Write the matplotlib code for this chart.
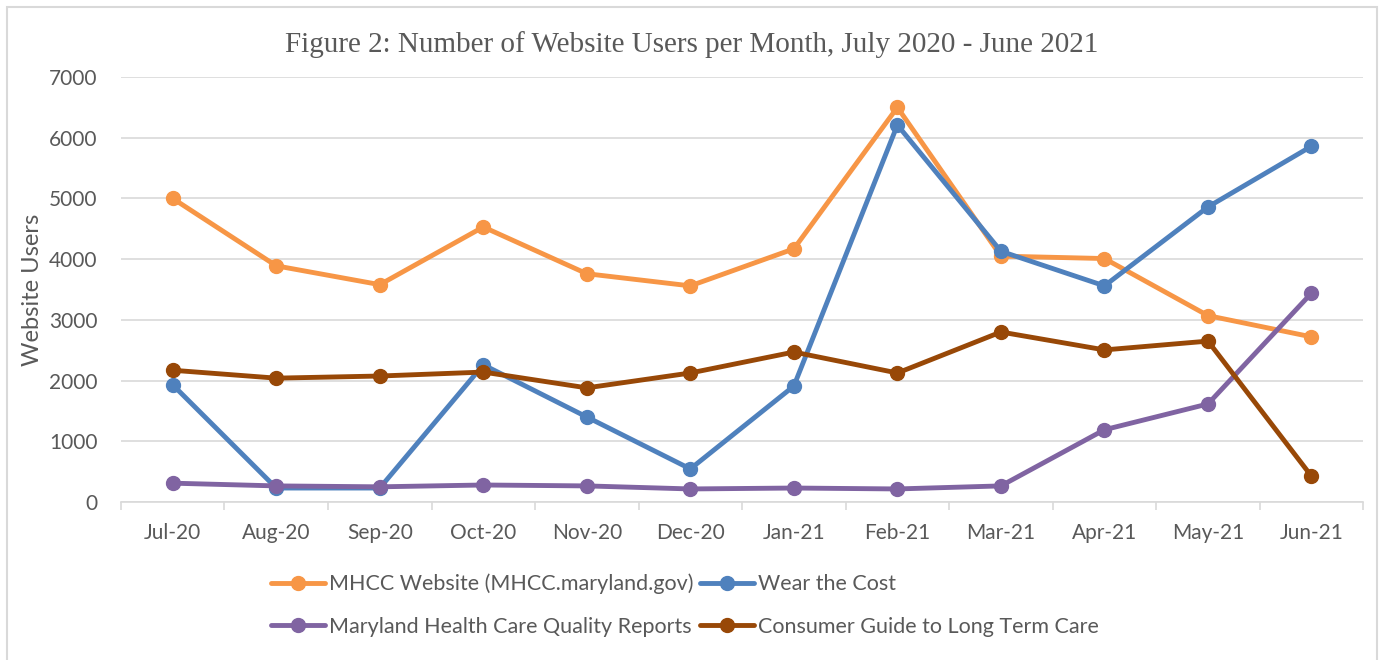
import matplotlib.pyplot as plt
from matplotlib.patches import Rectangle

months = ["Jul-20", "Aug-20", "Sep-20", "Oct-20", "Nov-20", "Dec-20",
          "Jan-21", "Feb-21", "Mar-21", "Apr-21", "May-21", "Jun-21"]
mhcc = [5000, 3890, 3580, 4530, 3760, 3560, 4170, 6500, 4050, 4010, 3070, 2720]
wear_cost = [1930, 230, 230, 2260, 1400, 545, 1910, 6210, 4130, 3560, 4860, 5860]
quality_reports = [310, 265, 250, 280, 265, 215, 230, 215, 265, 1190, 1615, 3440]
consumer_guide = [2170, 2040, 2075, 2140, 1880, 2125, 2470, 2125, 2800, 2505, 2650, 425]

series = [
    ("MHCC Website (MHCC.maryland.gov)", mhcc, "#F79646"),
    ("Wear the Cost", wear_cost, "#4F81BD"),
    ("Maryland Health Care Quality Reports", quality_reports, "#8064A2"),
    ("Consumer Guide to Long Term Care", consumer_guide, "#984807"),
]

text_color = "#595959"
sans = ["Lato", "DejaVu Sans"]

fig = plt.figure(figsize=(13.84, 6.6), dpi=100)
ax = fig.add_axes([0.0874, 0.2394, 0.8976, 0.6439])

x = list(range(len(months)))
handles = {}
for name, vals, color in series:
    line, = ax.plot(x, vals, color=color, linewidth=3.5, marker="o",
                    markersize=10, label=name, solid_capstyle="round")
    handles[name] = line

ax.set_ylim(0, 7000)
ax.set_xlim(-0.5, len(months) - 0.5)
ax.set_yticks(range(0, 7001, 1000))
ax.set_xticks(x)
ax.set_xticklabels(months)
ax.set_xticks([i - 0.5 for i in range(len(months) + 1)], minor=True)
ax.tick_params(axis="x", which="major", length=0, pad=15, labelsize=15,
               labelcolor=text_color)
ax.tick_params(axis="x", which="minor", length=6, color="#D9D9D9", width=1.2)
ax.tick_params(axis="y", length=0, pad=17, labelsize=15, labelcolor=text_color)
for lab in ax.get_xticklabels() + ax.get_yticklabels():
    lab.set_family(sans)

ax.grid(axis="y", color="#D9D9D9", linewidth=1.2)
ax.set_axisbelow(True)
for side in ["top", "right", "left"]:
    ax.spines[side].set_visible(False)
ax.spines["bottom"].set_color("#D9D9D9")
ax.spines["bottom"].set_linewidth(1.2)

ax.set_ylabel("Website Users", fontsize=17, color=text_color, family=sans,
              labelpad=4)
fig.text(0.5, 0.932, "Figure 2: Number of Website Users per Month, July 2020 - June 2021",
         ha="center", va="center", fontsize=21, color=text_color,
         family="Liberation Serif")

order = [series[0][0], series[2][0], series[1][0], series[3][0]]
leg = fig.legend([handles[n] for n in order], order, ncol=2, frameon=False,
                 loc="center", bbox_to_anchor=(0.495, 0.083),
                 prop={"family": sans, "size": 15.5}, handlelength=2.5,
                 handletextpad=0.2, columnspacing=0.3, labelspacing=1.05,
                 labelcolor=text_color)

fig.patches.append(Rectangle((0.005, -0.01), 0.99, 1.0, transform=fig.transFigure,
                             fill=False, edgecolor="#D9D9D9", linewidth=1.5))

fig.savefig("out.png", dpi=100)
